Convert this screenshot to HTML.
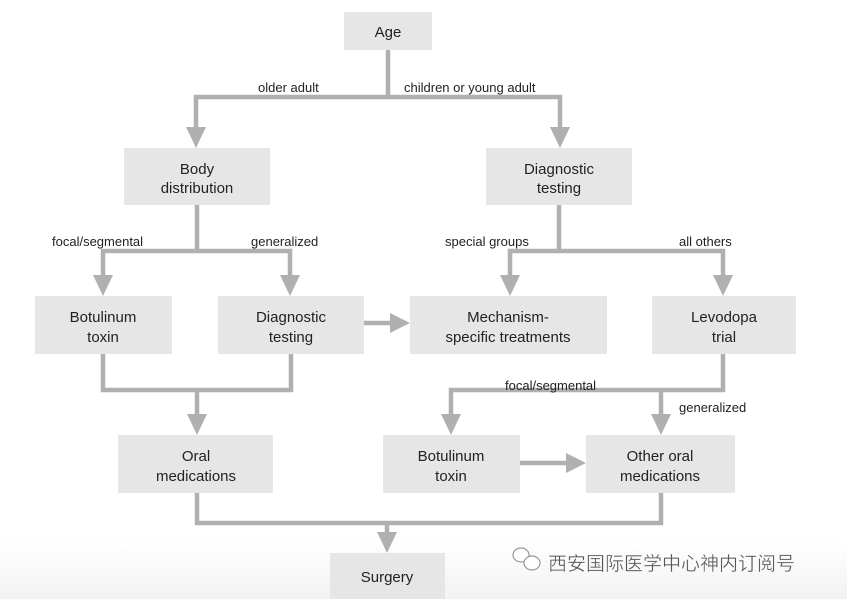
<!DOCTYPE html>
<html><head><meta charset="utf-8"><style>
html,body{margin:0;padding:0;background:#fff;}
svg{display:block}
text{font-family:"Liberation Sans",Arial,sans-serif;fill:#222;}
</style></head><body>
<svg width="847" height="599" viewBox="0 0 847 599" xmlns="http://www.w3.org/2000/svg">
<defs><linearGradient id="g" x1="0" y1="0" x2="0" y2="1"><stop offset="0" stop-color="#fff"/><stop offset="1" stop-color="#f2f2f2"/></linearGradient></defs>
<rect x="0" y="540" width="847" height="59" fill="url(#g)"/>
<g fill="#e6e6e6">
<rect x="344" y="12" width="88" height="38"/>
<rect x="124" y="148" width="146" height="57"/>
<rect x="486" y="148" width="146" height="57"/>
<rect x="35" y="296" width="137" height="58"/>
<rect x="218" y="296" width="146" height="58"/>
<rect x="410" y="296" width="197" height="58"/>
<rect x="652" y="296" width="144" height="58"/>
<rect x="118" y="435" width="155" height="58"/>
<rect x="383" y="435" width="137" height="58"/>
<rect x="586" y="435" width="149" height="58"/>
<rect x="330" y="553" width="115" height="46"/>
</g>
<g stroke="#b0b0b0" stroke-width="4.5" fill="none">
<polyline points="388,50 388,97"/>
<polyline points="196,128 196,97 560,97 560,128"/>
<polyline points="197,205 197,251"/>
<polyline points="103,276 103,251 290,251 290,276"/>
<polyline points="559,205 559,251"/>
<polyline points="510,276 510,251 723,251 723,276"/>
<polyline points="364,323 392,323"/>
<polyline points="103,354 103,390 291,390 291,354"/>
<polyline points="197,390 197,415"/>
<polyline points="723,354 723,390 451,390 451,415"/>
<polyline points="661,390 661,415"/>
<polyline points="520,463 568,463"/>
<polyline points="197,493 197,523 661,523 661,493"/>
<polyline points="387,523 387,533"/>
</g>
<g fill="#b0b0b0">
<polygon points="186,127 206,127 196,148"/>
<polygon points="550,127 570,127 560,148"/>
<polygon points="93,275 113,275 103,296"/>
<polygon points="280,275 300,275 290,296"/>
<polygon points="500,275 520,275 510,296"/>
<polygon points="713,275 733,275 723,296"/>
<polygon points="390,313 390,333 410,323"/>
<polygon points="187,414 207,414 197,435"/>
<polygon points="441,414 461,414 451,435"/>
<polygon points="651,414 671,414 661,435"/>
<polygon points="566,453 566,473 586,463"/>
<polygon points="377,532 397,532 387,553"/>
</g>
<g font-size="15" text-anchor="middle">
<text x="388" y="37">Age</text>
<text x="197" y="174">Body</text><text x="197" y="193">distribution</text>
<text x="559" y="174">Diagnostic</text><text x="559" y="193">testing</text>
<text x="103" y="322">Botulinum</text><text x="103" y="342">toxin</text>
<text x="291" y="322">Diagnostic</text><text x="291" y="342">testing</text>
<text x="508" y="322">Mechanism-</text><text x="508" y="342">specific treatments</text>
<text x="724" y="322">Levodopa</text><text x="724" y="342">trial</text>
<text x="196" y="461">Oral</text><text x="196" y="481">medications</text>
<text x="451" y="461">Botulinum</text><text x="451" y="481">toxin</text>
<text x="660" y="461">Other oral</text><text x="660" y="481">medications</text>
<text x="387" y="582">Surgery</text>
</g>
<g font-size="13">
<text x="258" y="92">older adult</text>
<text x="404" y="92">children or young adult</text>
<text x="52" y="246">focal/segmental</text>
<text x="251" y="246">generalized</text>
<text x="445" y="246">special groups</text>
<text x="679" y="246">all others</text>
<text x="505" y="390">focal/segmental</text>
<text x="679" y="412">generalized</text>
</g>
<g stroke="#999" stroke-width="1.2" fill="#fff">
<ellipse cx="521" cy="555" rx="8" ry="7"/>
<ellipse cx="532" cy="563" rx="8" ry="7"/>
</g>
<text x="548" y="570" font-size="19" style="font-family:'Liberation Sans','Noto Sans CJK SC',sans-serif;fill:#555;stroke:#fff;stroke-width:0.3">西安国际医学中心神内订阅号</text>
</svg>
</body></html>
